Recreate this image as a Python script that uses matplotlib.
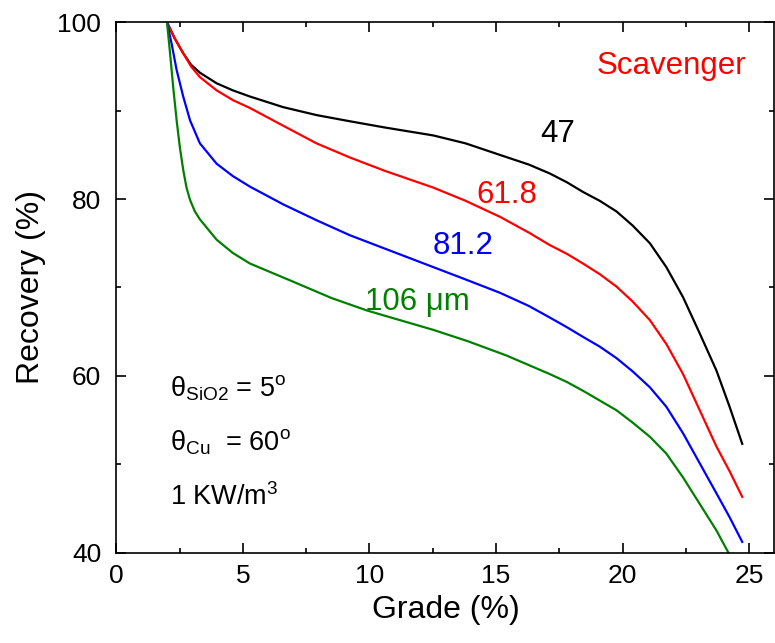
import matplotlib
matplotlib.use("Agg")
import matplotlib.pyplot as plt
from matplotlib.ticker import MultipleLocator

plt.rcParams["font.family"] = ["Liberation Sans", "DejaVu Sans"]
plt.rcParams["mathtext.fontset"] = "custom"
plt.rcParams["mathtext.rm"] = "Liberation Sans"
plt.rcParams["mathtext.it"] = "Liberation Sans:italic"

# grade (%) / recovery (%), one pair per size class
grade_47 = [2.0, 2.3, 2.64, 2.95, 3.3, 3.96, 4.6, 5.28, 6.59, 7.91, 9.23,
            10.6, 12.52, 13.8, 15.15, 16.3, 17.12, 17.8, 18.44, 19.1, 19.76,
            20.4, 21.08, 21.73, 22.39, 23.05, 23.71, 24.23, 24.73]
rec_47 = [100.0, 98.2, 96.5, 95.2, 94.3, 93.1, 92.3, 91.6, 90.4, 89.5, 88.8,
          88.1, 87.2, 86.3, 85.0, 83.9, 82.9, 81.9, 80.8, 79.8, 78.6,
          77.0, 75.0, 72.3, 68.9, 64.8, 60.6, 56.5, 52.3]

grade_618 = [2.0, 2.3, 2.64, 2.95, 3.3, 3.96, 4.6, 5.28, 6.59, 7.91, 9.23,
             10.6, 12.52, 13.8, 15.15, 16.3, 17.12, 17.8, 18.44, 19.1, 19.76,
             20.4, 21.08, 21.73, 22.39, 23.05, 23.71, 24.23, 24.73]
rec_618 = [100.0, 98.2, 96.5, 95.0, 93.8, 92.3, 91.2, 90.3, 88.3, 86.3, 84.7,
           83.2, 81.3, 79.8, 78.0, 76.2, 74.8, 73.8, 72.7, 71.5, 70.1,
           68.4, 66.3, 63.6, 60.2, 56.1, 52.0, 49.2, 46.3]

grade_812 = [2.0, 2.18, 2.38, 2.64, 2.91, 3.3, 3.96, 4.6, 5.28, 6.59, 7.91,
             9.23, 10.6, 12.52, 13.8, 15.15, 16.3, 17.12, 17.8, 18.44, 19.1,
             19.76, 20.4, 21.08, 21.73, 22.39, 23.05, 23.71, 24.23, 24.73]
rec_812 = [100.0, 97.6, 94.6, 91.6, 88.9, 86.3, 84.0, 82.6, 81.4, 79.4, 77.6,
           75.9, 74.4, 72.3, 70.9, 69.4, 67.9, 66.6, 65.5, 64.4, 63.3,
           62.0, 60.5, 58.7, 56.5, 53.5, 50.1, 46.7, 44.0, 41.2]

grade_106 = [2.0, 2.12, 2.25, 2.38, 2.51, 2.64, 2.77, 2.91, 3.1, 3.3, 3.96,
             4.6, 5.28, 6.86, 8.5, 9.89, 11.2, 12.52, 13.9, 15.41, 17.12,
             17.8, 18.44, 19.1, 19.76, 20.4, 21.08, 21.73, 22.39, 23.05,
             23.71, 24.18]
rec_106 = [100.0, 96.5, 92.5, 88.9, 85.8, 83.3, 81.3, 79.9, 78.6, 77.7, 75.4,
           73.9, 72.7, 70.8, 68.8, 67.4, 66.3, 65.2, 63.9, 62.3, 60.2,
           59.3, 58.3, 57.2, 56.1, 54.7, 53.1, 51.2, 48.5, 45.5,
           42.5, 40.0]

fig = plt.figure(figsize=(7.75, 6.43), dpi=100)
ax = fig.add_axes([0.1502, 0.1407, 0.849, 0.8246])

lw = 1.6
ax.plot(grade_47, rec_47, color="black", lw=lw)
ax.plot(grade_618, rec_618, color="red", lw=lw)
ax.plot(grade_812, rec_812, color="blue", lw=lw)
ax.plot(grade_106, rec_106, color="green", lw=lw)

ax.set_xlim(0, 26)
ax.set_ylim(40, 100)
ax.xaxis.set_major_locator(MultipleLocator(5))
ax.xaxis.set_minor_locator(MultipleLocator(2.5))
ax.yaxis.set_major_locator(MultipleLocator(20))
ax.yaxis.set_minor_locator(MultipleLocator(10))
ax.tick_params(which="both", direction="in", top=True, right=True,
               width=1.2, labelsize=19)
ax.tick_params(which="major", length=7)
ax.tick_params(which="minor", length=3.5)
ax.tick_params(axis="x", which="major", pad=8)
ax.tick_params(axis="y", which="major", pad=11)
for spine in ax.spines.values():
    spine.set_linewidth(1.2)

ax.set_xlabel("Grade (%)", fontsize=23, labelpad=5)
ax.set_ylabel("Recovery (%)", fontsize=23, labelpad=8)

ax.text(24.9, 94.2, "Scavenger", color="red", fontsize=22.5,
        ha="right", va="baseline")
ax.text(17.44, 86.4, "47", color="black", fontsize=22.5,
        ha="center", va="baseline")
ax.text(15.41, 79.5, "61.8", color="red", fontsize=22.5,
        ha="center", va="baseline")
ax.text(13.72, 73.8, "81.2", color="blue", fontsize=22.5,
        ha="center", va="baseline")
ax.text(11.89, 67.4, "106 \u03bcm", color="green", fontsize=22.5,
        ha="center", va="baseline")

ax.text(2.1, 57.6, r"$\mathrm{θ}_{\mathrm{SiO2}}$ = 5$^{\mathrm{o}}$",
        fontsize=19.5, ha="left", va="baseline")
ax.text(2.1, 51.6, r"$\mathrm{θ}_{\mathrm{Cu}}$  = 60$^{\mathrm{o}}$",
        fontsize=19.5, ha="left", va="baseline")
ax.text(2.1, 45.4, r"1 KW/m$^{3}$", fontsize=19.5, ha="left", va="baseline")

fig.savefig("out.png", dpi=100)
